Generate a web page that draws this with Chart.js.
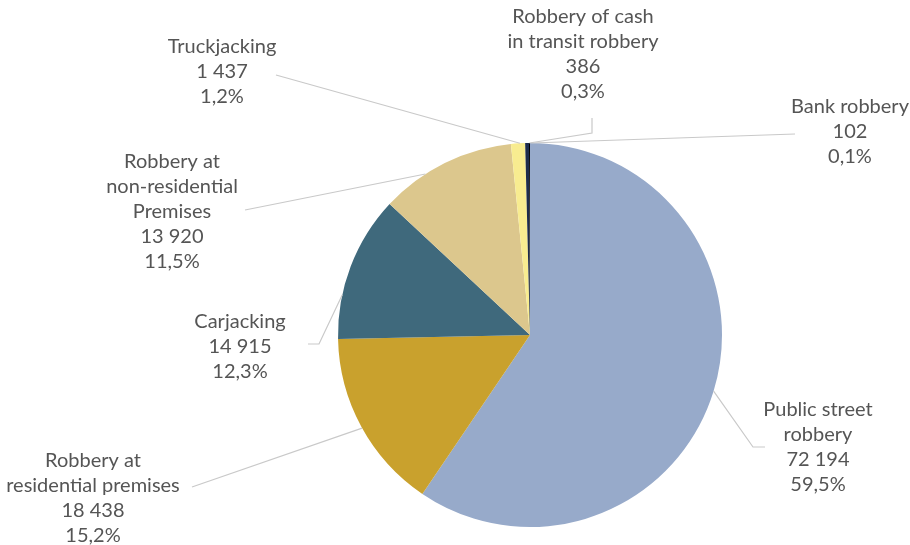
<!DOCTYPE html>
<html>
<head>
<meta charset="utf-8">
<script src="https://cdn.jsdelivr.net/npm/chart.js@4.4.1/dist/chart.umd.min.js"></script>
<style>
  html, body { margin: 0; padding: 0; background: #fff; }
  #wrap { width: 910px; height: 545px; position: relative; }
</style>
</head>
<body>
<div id="wrap"><canvas id="robbery"></canvas></div>
<script>
// categories, counts and shares as printed on the chart
var categories = [
  ['Public street', 'robbery'],
  ['Robbery at', 'residential premises'],
  ['Carjacking'],
  ['Robbery at', 'non-residential', 'Premises'],
  ['Truckjacking'],
  ['Robbery of cash', 'in transit robbery'],
  ['Bank robbery']
];
var counts = [72194, 18438, 14915, 13920, 1437, 386, 102];
var shares = ['59,5%', '15,2%', '12,3%', '11,5%', '1,2%', '0,3%', '0,1%'];
var colors = ['#97aaca', '#c9a12d', '#3f697c', '#dcc78d', '#f8ec90', '#1d2c4c', '#000000'];

// label placement: centre x / first line y, leader path (label side first), angle on the pie (deg, clockwise from top)
var labelLayout = [
  { x: 818, y: 410, path: [[765, 447], [753, 447]], angle: 107 },
  { x: 93,  y: 461, path: [[192, 487]], angle: 241 },
  { x: 240, y: 322, path: [[308, 344], [319, 344]], angle: 282 },
  { x: 172, y: 162, path: [[245, 210]], angle: 327 },
  { x: 222, y: 47,  path: [[276, 75]], angle: 357 },
  { x: 583, y: 17,  path: [[592, 118], [592, 133]], angle: 359.8 },
  { x: 850, y: 107, path: [[795, 134]], angle: 0.4 }
];

function fmt(n) {
  return String(n).replace(/\B(?=(\d{3})+(?!\d))/g, ' ');
}

var calloutPlugin = {
  id: 'callouts',
  afterDraw: function (chart) {
    var ctx = chart.ctx;
    var arc = chart.getDatasetMeta(0).data[0];
    var cx = arc.x, cy = arc.y, r = arc.outerRadius;
    ctx.save();
    labelLayout.forEach(function (l, i) {
      var a = l.angle * Math.PI / 180;
      var px = cx + r * Math.sin(a);
      var py = cy - r * Math.cos(a);
      ctx.beginPath();
      ctx.strokeStyle = '#c9c9c9';
      ctx.lineWidth = 1.2;
      ctx.moveTo(l.path[0][0], l.path[0][1]);
      for (var k = 1; k < l.path.length; k++) ctx.lineTo(l.path[k][0], l.path[k][1]);
      ctx.lineTo(px, py);
      ctx.stroke();

      var lines = categories[i].concat([fmt(counts[i]), shares[i]]);
      ctx.fillStyle = '#555555';
      ctx.font = '20px Lato';
      ctx.textAlign = 'center';
      ctx.textBaseline = 'middle';
      lines.forEach(function (t, j) {
        ctx.fillText(t, l.x, l.y + j * 25);
      });
    });
    ctx.restore();
  }
};

var config = {
  type: 'pie',
  plugins: [calloutPlugin],
  data: {
    labels: categories.map(function (c) { return c.join(' '); }),
    datasets: [{
      data: counts,
      backgroundColor: colors,
      borderWidth: 0
    }]
  },
  options: {
    responsive: true,
    maintainAspectRatio: false,
    animation: false,
    layout: {
      padding: { top: 143, bottom: 18, left: 250, right: 100 }
    },
    plugins: {
      legend: { display: false },
      tooltip: { enabled: false }
    }
  }
};

new Chart(document.getElementById('robbery').getContext('2d'), config);
</script>
</body>
</html>
